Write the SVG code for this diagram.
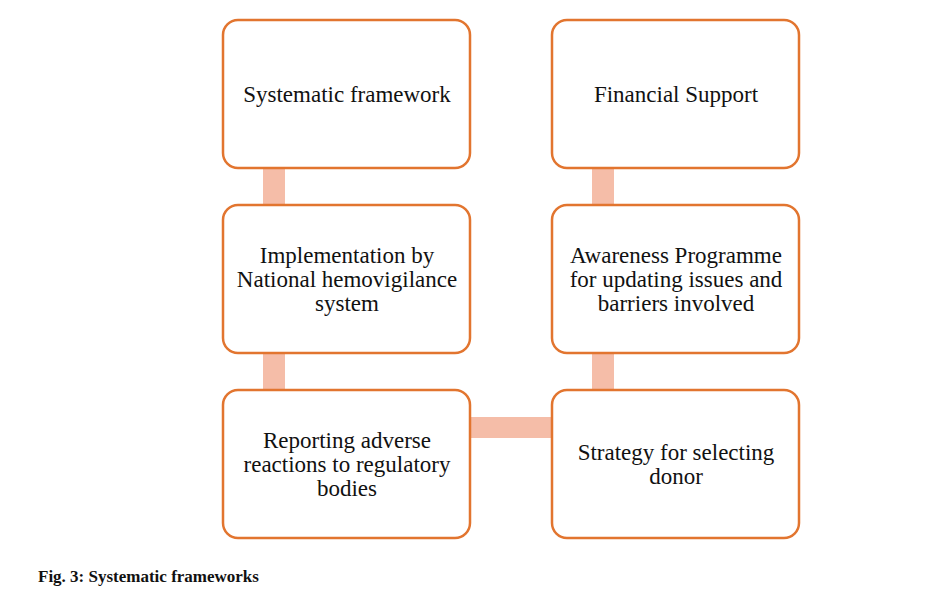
<svg xmlns="http://www.w3.org/2000/svg" width="941" height="597" viewBox="0 0 941 597">
<style>
.box{fill:#fff;stroke:#E2752F;stroke-width:2.5}
.conn{fill:#F5BDA8}
.t{font-family:"Times New Roman","Liberation Serif","DejaVu Serif",serif;font-size:23px;fill:#111;text-anchor:middle}
.cap{font-family:"Times New Roman","Liberation Serif","DejaVu Serif",serif;font-size:17px;font-weight:bold;fill:#111}
</style>
<rect width="941" height="597" fill="#fff"/>
<g id="connectors">
<rect class="conn" x="263" y="168" width="22" height="37"/>
<rect class="conn" x="263" y="353" width="22" height="37"/>
<rect class="conn" x="592" y="168" width="22" height="37"/>
<rect class="conn" x="592" y="353" width="22" height="37"/>
<rect class="conn" x="470" y="417" width="82" height="21"/>
</g>
<g id="n1">
<rect class="box" x="223" y="20" width="247" height="148" rx="15"/>
<text class="t" x="347" y="102">Systematic framework</text>
</g>
<g id="n2">
<rect class="box" x="223" y="205" width="247" height="148" rx="15"/>
<text class="t" x="347" y="263">Implementation by</text>
<text class="t" x="347" y="287">National hemovigilance</text>
<text class="t" x="347" y="311">system</text>
</g>
<g id="n3">
<rect class="box" x="223" y="390" width="247" height="148" rx="15"/>
<text class="t" x="347" y="448">Reporting adverse</text>
<text class="t" x="347" y="472">reactions to regulatory</text>
<text class="t" x="347" y="496">bodies</text>
</g>
<g id="n4">
<rect class="box" x="552" y="390" width="247" height="148" rx="15"/>
<text class="t" x="676" y="460">Strategy for selecting</text>
<text class="t" x="676" y="484">donor</text>
</g>
<g id="n5">
<rect class="box" x="552" y="205" width="247" height="148" rx="15"/>
<text class="t" x="676" y="263">Awareness Programme</text>
<text class="t" x="676" y="287">for updating issues and</text>
<text class="t" x="676" y="311">barriers involved</text>
</g>
<g id="n6">
<rect class="box" x="552" y="20" width="247" height="148" rx="15"/>
<text class="t" x="676" y="102">Financial Support</text>
</g>
<text class="cap" x="38" y="582">Fig. 3: Systematic frameworks</text>
</svg>
